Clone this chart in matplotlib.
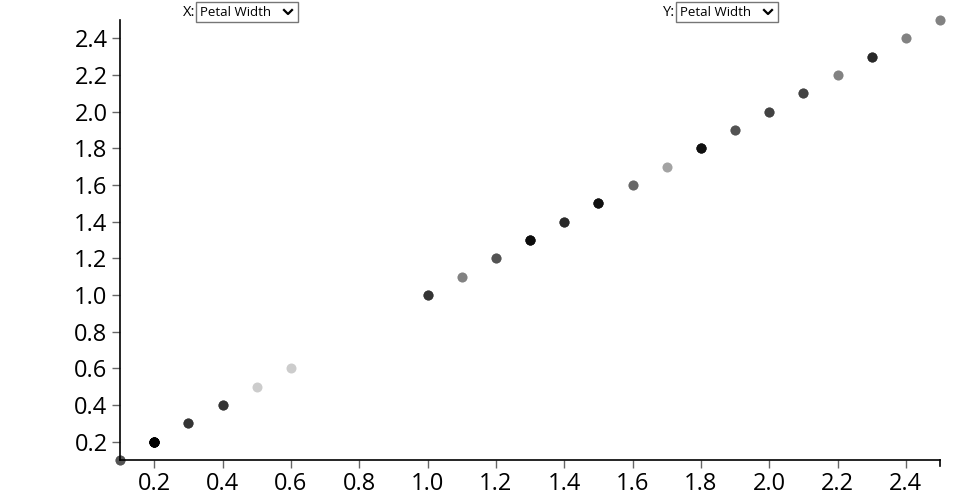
import numpy as np
import matplotlib.pyplot as plt
from matplotlib.patches import Rectangle
from matplotlib.lines import Line2D

# iris petal width: distinct values and how many flowers have each
widths = [0.1, 0.2, 0.3, 0.4, 0.5, 0.6, 1.0, 1.1, 1.2, 1.3, 1.4, 1.5,
          1.6, 1.7, 1.8, 1.9, 2.0, 2.1, 2.2, 2.3, 2.4, 2.5]
counts = [5, 29, 7, 7, 1, 1, 7, 3, 5, 13, 8, 12,
          4, 2, 12, 5, 6, 6, 3, 8, 3, 3]
ticks = [0.2, 0.4, 0.6, 0.8, 1.0, 1.2, 1.4, 1.6, 1.8, 2.0, 2.2, 2.4]
x_label = 'Petal Width'
y_label = 'Petal Width'

plt.rcParams['font.family'] = ['Open Sans', 'DejaVu Sans']

pw = np.repeat(widths, counts)

fig = plt.figure(figsize=(9.6, 5), dpi=100)
ax = fig.add_axes([120 / 960, 40 / 500, 820 / 960, 440 / 500])

for v in pw:
    ax.scatter(v, v, s=52, color='black', alpha=0.2, linewidths=0, clip_on=False)

ax.set_xlim(0.1, 2.5)
ax.set_ylim(0.1, 2.5)
ax.set_xticks(ticks)
ax.set_yticks(ticks)
ax.set_xticklabels(['{:.1f}'.format(t) for t in ticks])
ax.set_yticklabels(['{:.1f}'.format(t) for t in ticks])
ax.spines['top'].set_visible(False)
ax.spines['right'].set_visible(False)
ax.tick_params(axis='both', length=6, width=1, labelsize=17, pad=3, color='#666666')
for s in ['left', 'bottom']:
    ax.spines[s].set_linewidth(1.2)

# end tick at the right of the x axis (d3 style domain end)
ax.add_line(Line2D([1.0, 1.0], [0, -6 / 440], transform=ax.transAxes,
                   color='black', lw=1.2, clip_on=False))


def dropdown(x0, label, value):
    # x0 in pixels, left of select box
    W, H = 960, 500
    fig.text((x0 - 1) / W, 1 - 12 / H, label, ha='right', va='center', fontsize=10.5)
    fig.add_artist(Rectangle((x0 / W, 1 - 22 / H), 102 / W, 20 / H, transform=fig.transFigure,
                             facecolor='white', edgecolor='#767676', lw=1))
    fig.text((x0 + 4) / W, 1 - 12.5 / H, value, ha='left', va='center', fontsize=9.5)
    cx, cy = x0 + 92, 12
    fig.add_artist(Line2D([(cx - 4) / W, cx / W, (cx + 4) / W],
                          [1 - (cy - 2) / H, 1 - (cy + 2) / H, 1 - (cy - 2) / H],
                          transform=fig.transFigure, color='black', lw=1.6))


dropdown(196, 'X:', x_label)
dropdown(676, 'Y:', y_label)

fig.savefig('out.png', dpi=100)
